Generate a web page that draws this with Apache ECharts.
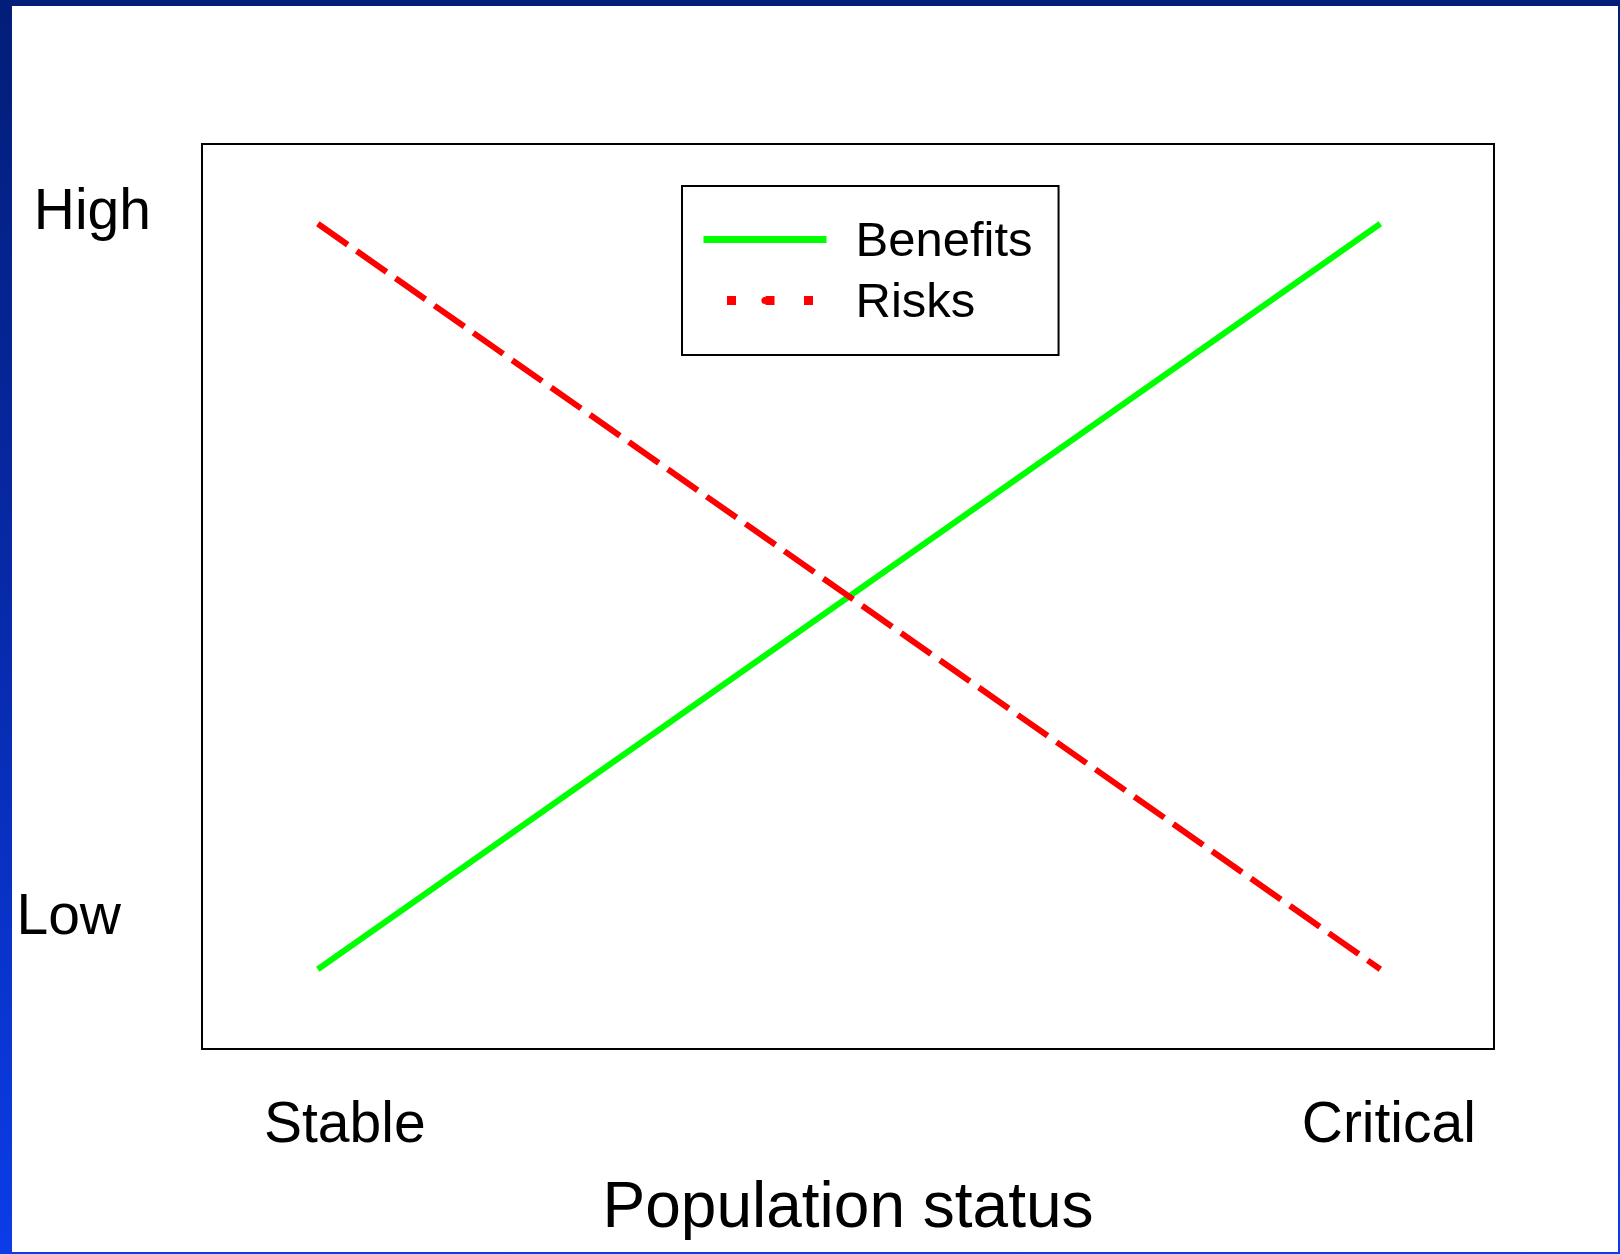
<!DOCTYPE html>
<html>
<head>
<meta charset="utf-8">
<title>Benefits and risks by population status</title>
<script src="https://cdn.jsdelivr.net/npm/echarts@6/dist/echarts.min.js"></script>
<style>
  html, body { margin: 0; padding: 0; }
  body {
    width: 1620px; height: 1254px; overflow: hidden; position: relative;
    background: linear-gradient(to bottom, #021e78 0%, #0729a6 45%, #0b3ce8 100%);
  }
  #panel {
    position: absolute; left: 12px; top: 6px; right: 2px; bottom: 2px;
    background: #ffffff;
  }
  #chart {
    position: absolute; left: 0; top: 0; width: 1620px; height: 1254px;
  }
</style>
</head>
<body>
<div id="panel"></div>
<div id="chart"></div>
<script>
// Population status along the x axis, qualitative level along the y axis
const statusValues = [0, 1];
const statusLabels = ['Stable', 'Critical'];
const levelValues = [0, 1];
const levelLabels = ['Low', 'High'];

// Series: level at each end of the status scale
const seriesNames = ['Benefits', 'Risks'];
const benefits = [0, 1];
const risks = [1, 0];

const FONT = '"Liberation Sans", Arial, Helvetica, sans-serif';

const chart = echarts.init(document.getElementById('chart'), null, { renderer: 'canvas' });

const toPairs = (ys) => statusValues.map((x, i) => [x, ys[i]]);

chart.setOption({
  animation: false,
  backgroundColor: 'transparent',
  textStyle: { fontFamily: FONT, color: '#000' },
  grid: {
    left: 202, top: 144, width: 1292, height: 905,
    show: true, borderColor: '#000', borderWidth: 2, backgroundColor: 'transparent'
  },
  legend: {
    orient: 'vertical',
    left: 682, top: 186,
    padding: [32, 26, 27, 17],
    itemWidth: 123, itemHeight: 9, itemGap: 12,
    borderColor: '#000', borderWidth: 2, backgroundColor: '#fff',
    formatter: (name) => '{t|' + name + '}',
    textStyle: {
      fontFamily: FONT, fontSize: 49, color: '#000',
      rich: { t: { fontFamily: FONT, fontSize: 49, color: '#000', padding: [6, 0, 0, 24] } }
    },
    data: [
      { name: seriesNames[0], lineStyle: { width: 7, type: 'solid', cap: 'butt' } },
      { name: seriesNames[1], lineStyle: { width: 9, type: [9, 29.5], dashOffset: 15, cap: 'butt' } }
    ]
  },
  xAxis: {
    type: 'value', min: -0.109, max: 1.107,
    axisLine: { show: false }, axisTick: { show: false }, splitLine: { show: false },
    axisLabel: {
      customValues: statusValues,
      margin: 49,
      verticalAlign: 'top',
      fontFamily: FONT, fontSize: 57, color: '#000',
      formatter: (v) => {
        const i = statusValues.indexOf(v);
        return '{s' + i + '|' + statusLabels[i] + '}';
      },
      rich: {
        s0: { fontFamily: FONT, fontSize: 57, color: '#000', padding: [0, 0, 0, 54] },
        s1: { fontFamily: FONT, fontSize: 57, color: '#000', padding: [0, 0, 0, 17] }
      }
    },
    name: 'Population status',
    nameLocation: 'middle',
    nameGap: 128,
    nameTextStyle: { fontFamily: FONT, fontSize: 64, color: '#000' }
  },
  yAxis: {
    type: 'value', min: -0.107, max: 1.107,
    axisLine: { show: false }, axisTick: { show: false }, splitLine: { show: false },
    axisLabel: {
      customValues: levelValues,
      margin: 51,
      fontFamily: FONT, fontSize: 57, color: '#000',
      formatter: (v) => {
        const i = levelValues.indexOf(v);
        return '{l' + i + '|' + levelLabels[i] + '}';
      },
      rich: {
        l0: { fontFamily: FONT, fontSize: 57, color: '#000', padding: [0, 30, 102, 0] },
        l1: { fontFamily: FONT, fontSize: 57, color: '#000', padding: [0, 0, 20, 0] }
      }
    }
  },
  series: [
    {
      name: seriesNames[0], type: 'line', data: toPairs(benefits),
      symbol: 'none', showSymbol: false, silent: true,
      lineStyle: { color: '#00ff00', width: 6, type: 'solid', cap: 'butt' },
      itemStyle: { color: '#00ff00' }
    },
    {
      name: seriesNames[1], type: 'line', data: toPairs(risks),
      symbol: 'none', showSymbol: false, silent: true,
      lineStyle: { color: '#ff0000', width: 6, type: [36.5, 11], cap: 'butt' },
      itemStyle: { color: '#ff0000' }
    }
  ]
});
</script>
</body>
</html>
